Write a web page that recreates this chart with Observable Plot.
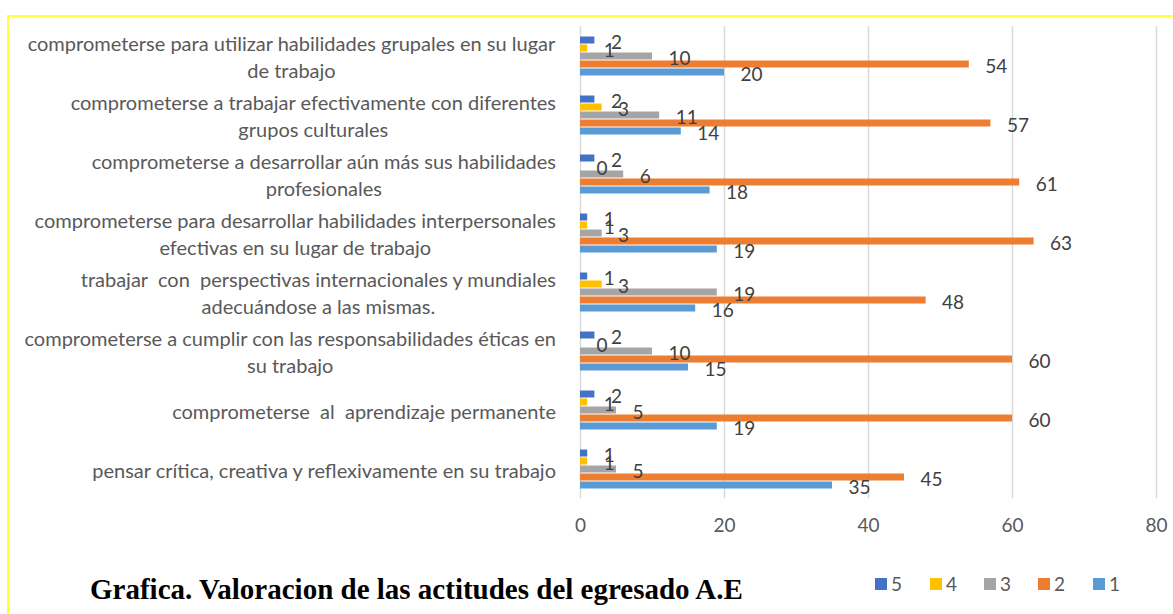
<!DOCTYPE html>
<html>
<head>
<meta charset="utf-8">
<script src="https://cdn.jsdelivr.net/npm/d3@7"></script>
<script src="https://cdn.jsdelivr.net/npm/@observablehq/plot@0.6"></script>
<style>
  body { margin: 0; background: #fff; }
  #wrap { position: relative; width: 1173px; height: 614px; overflow: hidden; background: #fff; font-family: Lato, "Open Sans", sans-serif; }
  #frame { position: absolute; left: 7px; top: 15px; width: 1300px; height: 800px; border-left: 2px solid #ffff3a; border-top: 2px solid #ffff3a; }
  #chart { position: absolute; left: 0; top: 0; }
  #title { position: absolute; left: 90px; top: 573px; font-family: "Liberation Serif", "Times New Roman", serif; font-weight: bold; font-size: 29px; color: #000; white-space: nowrap; }
  #legend { position: absolute; left: 0; top: 572px; font-size: 19px; color: #595959; }
  .lg { position: absolute; display: flex; align-items: center; white-space: nowrap; }
  .lg span.sw { display: inline-block; width: 12px; height: 12px; margin-right: 4px; }
  .catlabel text { white-space: pre; }
</style>
</head>
<body>
<div id="wrap">
  <div id="frame"></div>
  <div id="chart"></div>
  <div id="legend"></div>
  <div id="title">Grafica. Valoracion de las actitudes del egresado A.E</div>
</div>
<script>
// ---- data ----
const categories = [
  "comprometerse para utilizar habilidades grupales en su lugar de trabajo",
  "comprometerse a trabajar efectivamente con diferentes grupos culturales",
  "comprometerse a desarrollar aún más sus habilidades profesionales",
  "comprometerse para desarrollar habilidades interpersonales efectivas en su lugar de trabajo",
  "trabajar  con  perspectivas internacionales y mundiales adecuándose a las mismas.",
  "comprometerse a cumplir con las responsabilidades éticas en su trabajo",
  "comprometerse  al  aprendizaje permanente",
  "pensar crítica, creativa y reflexivamente en su trabajo"
];
const categoryLabels = [
  "comprometerse para utilizar habilidades grupales en su lugar\nde trabajo",
  "comprometerse a trabajar efectivamente con diferentes\ngrupos culturales",
  "comprometerse a desarrollar aún más sus habilidades\nprofesionales",
  "comprometerse para desarrollar habilidades interpersonales\nefectivas en su lugar de trabajo",
  "trabajar  con  perspectivas internacionales y mundiales\nadecuándose a las mismas.",
  "comprometerse a cumplir con las responsabilidades éticas en\nsu trabajo",
  "comprometerse  al  aprendizaje permanente",
  "pensar crítica, creativa y reflexivamente en su trabajo"
];
const seriesNames = ["5", "4", "3", "2", "1"];
const values5 = [2, 2, 2, 1, 1, 2, 2, 1];
const values4 = [1, 3, 0, 1, 3, 0, 1, 1];
const values3 = [10, 11, 6, 3, 19, 10, 5, 5];
const values2 = [54, 57, 61, 63, 48, 60, 60, 45];
const values1 = [20, 14, 18, 19, 16, 15, 19, 35];
const seriesColors = ["#4472c4", "#ffc000", "#a5a5a5", "#ed7d31", "#5b9bd5"];
const xTicks = [0, 20, 40, 60, 80];

// ---- build table ----
const seriesValues = {"5": values5, "4": values4, "3": values3, "2": values2, "1": values1};
const rows = [];
categories.forEach((c, i) => {
  seriesNames.forEach(s => rows.push({cat: c, series: s, value: seriesValues[s][i]}));
});
const catRows = categories.map((c, i) => ({cat: c, label: categoryLabels[i]}));

const W = 1173, H = 548;
const font = "Lato, 'Open Sans', sans-serif";
const chart = Plot.plot({
  width: W,
  height: H,
  marginLeft: 580,
  marginRight: 17,
  marginTop: 25,
  marginBottom: H - 499,
  style: {fontFamily: font, background: "transparent", overflow: "visible"},
  x: {domain: [0, 80], ticks: xTicks},
  fy: {domain: categories, padding: 0, axis: null, label: null},
  y: {domain: seriesNames, paddingInner: 0, paddingOuter: 0.95, axis: null},
  color: {domain: seriesNames, range: seriesColors},
  marks: [
    Plot.gridX(xTicks, {stroke: "#d9d9d9", strokeOpacity: 1, strokeWidth: 1.5}),
    Plot.barX(rows, {fy: "cat", y: "series", x: "value", fill: "series", insetTop: 0.5, insetBottom: 0.5}),
    Plot.text(rows, {fy: "cat", y: "series", x: "value", text: d => String(d.value), textAnchor: "start", dx: 16, dy: 2, fill: "#404040", fontSize: 19}),
    Plot.text(catRows, {fy: "cat", text: "label", frameAnchor: "left", textAnchor: "middle", dx: -290, lineHeight: 1.33, fontSize: 20, fill: "#595959", className: "catlabel"}),
    Plot.axisX(xTicks, {tickSize: 0, tickPadding: 20, fontSize: 19, color: "#595959", label: null})
  ]
});
document.getElementById("chart").appendChild(chart);

// right-align each category label block against the axis (Excel-style: centred lines, block flush right)
const rightEdge = 556;
const svgRect = chart.getBoundingClientRect();
chart.querySelectorAll(".catlabel text").forEach(t => {
  const r = t.getBoundingClientRect();
  const shift = rightEdge - (r.right - svgRect.left);
  const prev = t.getAttribute("transform") || "";
  t.setAttribute("transform", prev + ` translate(${shift},0)`);
});

// legend
const legendX = [875, 930, 984, 1038, 1093];
const legend = document.getElementById("legend");
seriesNames.forEach((s, i) => {
  const d = document.createElement("div");
  d.className = "lg";
  d.style.left = legendX[i] + "px";
  d.innerHTML = `<span class="sw" style="background:${seriesColors[i]}"></span><span>${s}</span>`;
  legend.appendChild(d);
});
</script>
</body>
</html>
